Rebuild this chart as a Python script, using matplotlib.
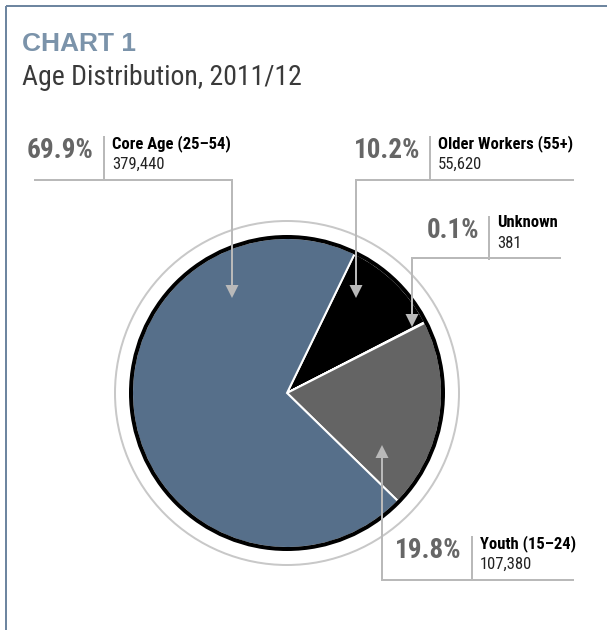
import numpy as np
import matplotlib
matplotlib.use('Agg')
import matplotlib.pyplot as plt
import matplotlib.font_manager as fm
from matplotlib.patches import Circle, Polygon

# age groups, in pie order (clockwise from the top right)
groups = ['Older Workers (55+)', 'Unknown', 'Youth (15\u201324)', 'Core Age (25\u201354)']
counts = [55620, 381, 107380, 379440]
shares = ['10.2%', '0.1%', '19.8%', '69.9%']
colors = ['#000000', '#d9d9d9', '#646464', '#566f8a']


def pick_narrow():
    entries = fm.fontManager.ttflist
    for want in ['Roboto Condensed', 'Liberation Sans Narrow', 'Open Sans Condensed',
                 'Noto Sans Condensed']:
        if any(f.name == want for f in entries):
            return want, 'normal'
    for f in entries:
        if 'Condensed' in f.name or 'Narrow' in f.name:
            return f.name, 'normal'
    for f in entries:
        if f.name == 'DejaVu Sans' and str(f.stretch) == 'condensed':
            return 'DejaVu Sans', 'condensed'
    return 'Roboto', 'normal'


NARROW, STRETCH = pick_narrow()
narrow = dict(family=NARROW, fontstretch=STRETCH)

W, H = 607, 630
fig = plt.figure(figsize=(W / 100, H / 100), dpi=100)
ax = fig.add_axes([0, 0, 1, 1])
px = 72 / 100  # points per pixel

# frame (top and left edges only)
ax.plot([5.5, W], [5.5, 5.5], color='#6e86a0', lw=2 * px, solid_capstyle='butt')
ax.plot([5.5, 5.5], [5.5, H], color='#6e86a0', lw=2 * px, solid_capstyle='butt')

ax.text(22, 51, 'CHART 1', fontsize=19, fontweight='bold', color='#7b93aa',
        family='Liberation Sans', va='baseline')
ax.text(22, 85, 'Age Distribution, 2011/12', fontsize=20, color='#3a3a3a',
        va='baseline', **narrow)

# pie
cx, cy, r = 287, 393, 155
ax.pie(counts, colors=colors, center=(cx, cy), radius=r, startangle=295.9,
       counterclock=True, frame=True,
       wedgeprops=dict(edgecolor='white', linewidth=2 * px, joinstyle='miter'))
ax.set_xlim(0, W)
ax.set_ylim(H, 0)
ax.set_aspect('equal')
ax.axis('off')
ax.add_patch(Circle((cx, cy), 156, fill=False, ec='black', lw=4 * px, zorder=5))
ax.add_patch(Circle((cx, cy), 172, fill=False, ec='#c8c8c8', lw=2 * px, zorder=5))

LINE = '#b9b9b9'


def leader(pts, up=False):
    xs = [p[0] for p in pts]
    ys = [p[1] for p in pts]
    tx, ty = pts[-1]
    d = 1 if not up else -1
    ys[-1] = ty - d * 10
    ax.plot(xs, ys, color=LINE, lw=2 * px, zorder=6, solid_joinstyle='miter')
    ax.add_patch(Polygon([(tx - 6.5, ty - d * 13), (tx + 6.5, ty - d * 13), (tx, ty)],
                         closed=True, fc=LINE, ec='none', zorder=6))


def label(share, name, count, sep_x, top, base):
    ax.text(sep_x - 10, base + 10.5, share, fontsize=19.5, fontweight='bold',
            color='#666666', ha='right', va='baseline', **narrow)
    ax.plot([sep_x, sep_x], [top, base + 32], color=LINE, lw=2 * px)
    ax.text(sep_x + 8, base, name, fontsize=12, fontweight='bold', color='black',
            va='baseline', **narrow)
    ax.text(sep_x + 8, base + 21, f'{count:,}', fontsize=12, color='#222222',
            va='baseline', **narrow)


# Core Age
label(shares[3], groups[3], counts[3], 104, 137, 148)
leader([(35, 180), (232, 180), (232, 298)])

# Older Workers
label(shares[0], groups[0], counts[0], 430, 137, 148)
leader([(573, 180), (356, 180), (356, 298)])

# Unknown
label(shares[1], groups[1], counts[1], 489, 217, 227)
leader([(560, 258), (412, 258), (412, 327)])

# Youth
label(shares[2], groups[2], counts[2], 472, 537, 548)
leader([(573, 580), (382, 580), (382, 445)], up=True)

fig.savefig('out.png', dpi=100)
